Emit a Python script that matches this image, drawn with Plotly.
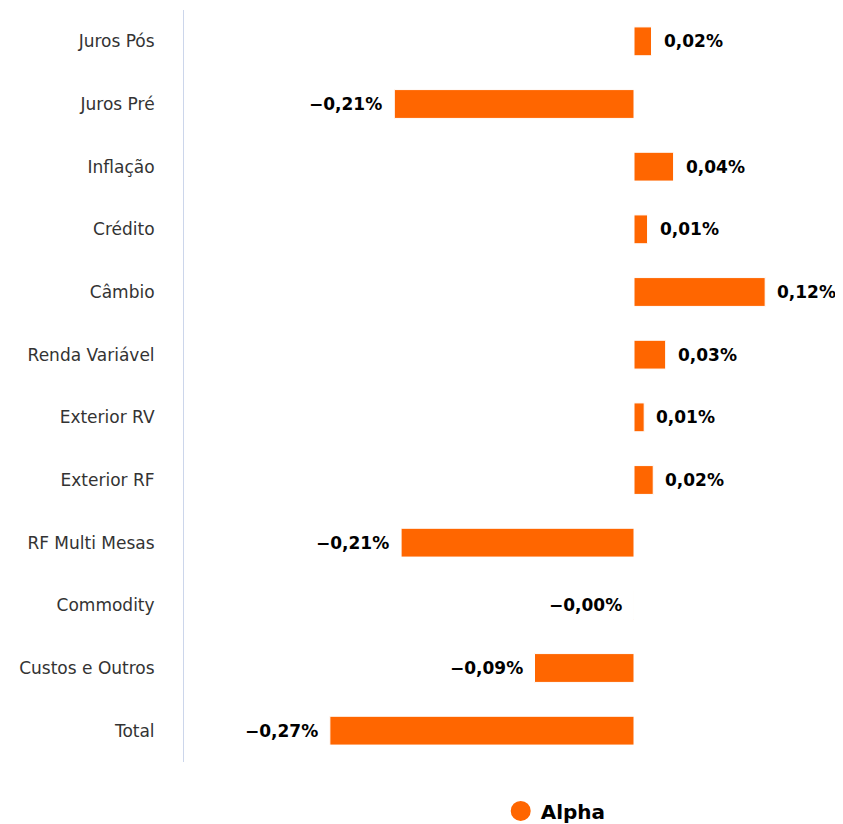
import plotly.graph_objects as go

categories = ["Juros Pós", "Juros Pré", "Inflação", "Crédito", "Câmbio", "Renda Variável",
              "Exterior RV", "Exterior RF", "RF Multi Mesas", "Commodity", "Custos e Outros", "Total"]
alpha = [0.0155, -0.212, 0.035, 0.012, 0.116, 0.028, 0.009, 0.017, -0.206, -0.0004, -0.088, -0.269]
series_name = "Alpha"
color = "#FF6600"


def fmt(v):
    s = f"{abs(v):.2f}".replace(".", ",") + "%"
    return ("\u2212" + s) if v < 0 else s


fig = go.Figure()
fig.add_trace(go.Bar(
    x=alpha, y=categories, orientation="h",
    marker=dict(color=color, line=dict(color="white", width=1)),
    showlegend=False, hoverinfo="skip",
))
fig.add_trace(go.Scatter(
    x=[None], y=[None], mode="markers", name=series_name,
    marker=dict(color=color, size=16, symbol="circle", line=dict(color=color, width=4)),
))

for c, v in zip(categories, alpha):
    fig.add_annotation(
        x=v, y=c, text="<b>" + fmt(v) + "</b>", showarrow=False,
        xanchor="left" if v >= 0 else "right",
        xshift=10 if v >= 0 else -10,
        font=dict(family="DejaVu Sans", size=17, color="#000000"),
    )

fig.update_layout(
    width=827, height=816,
    margin=dict(l=176, r=2, t=2, b=62, autoexpand=False),
    paper_bgcolor="white", plot_bgcolor="white",
    bargap=0.54,
    font=dict(family="DejaVu Sans", color="#333333"),
    legend=dict(
        orientation="h", x=0.488, xanchor="left", y=-0.065, yanchor="middle",
        font=dict(family="DejaVu Sans", size=20, color="#000000", weight="bold"),
    ),
)
fig.update_xaxes(
    range=[-0.398, 0.176], showgrid=False, zeroline=False, showticklabels=False,
    showline=False,
)
fig.update_yaxes(
    autorange="reversed", showgrid=False, showline=True, linecolor="#ccd6eb",
    linewidth=1, ticks="", ticklabelstandoff=25,
    tickfont=dict(family="DejaVu Sans", size=17, color="#333333"),
)

fig.write_html("out.html")
